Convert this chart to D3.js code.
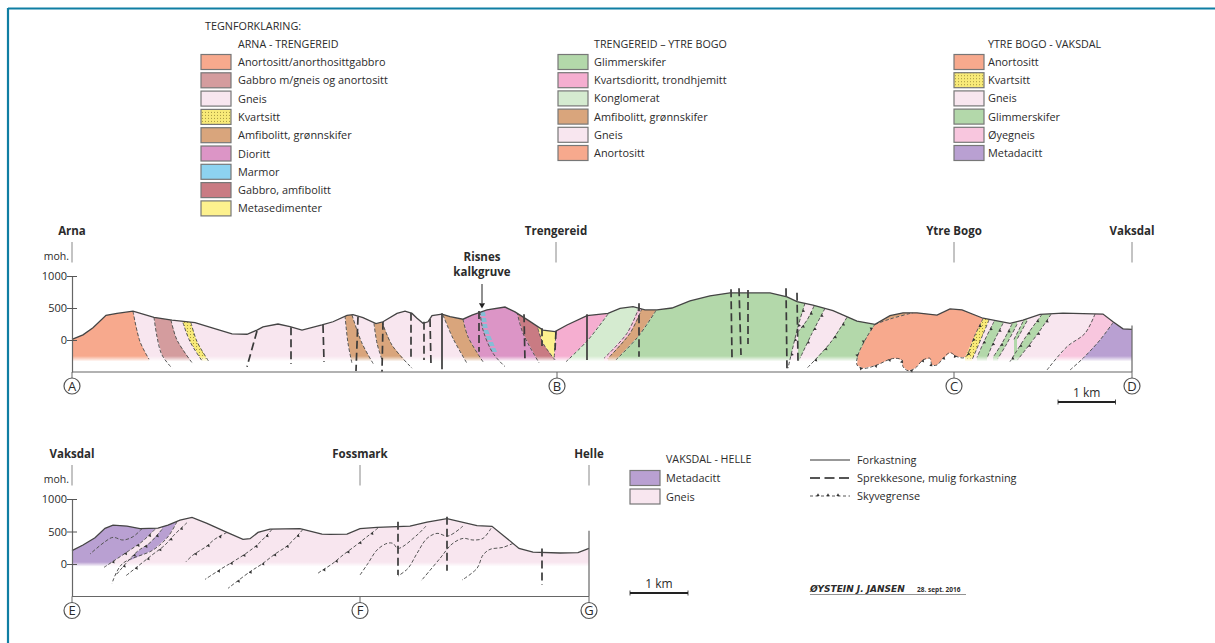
<!DOCTYPE html>
<html>
<head>
<meta charset="utf-8">
<script src="https://cdn.jsdelivr.net/npm/d3@7"></script>
<style>
html, body { margin: 0; padding: 0; background: #fff; }
svg { display: block; }
text { font-family: "Open Sans", "Noto Sans", sans-serif; fill: #2b2b2b; }
</style>
</head>
<body>
<div id="chart"></div>
<script>
// Position along the section is in drawing units (57 per km), height in moh.
var elevationTicks = [0, 500, 1000];

// Terrain profile A-D
var terrainTop = [[0,10],[11,80],[21,190],[34,385],[45,415],[61,450],[82,355],[100,310],[123,270],[141,185],[160,95],[175,90],[185,155],[191,205],[206,250],[218,210],[230,155],[250,235],[261,285],[275,385],[281,395],[291,350],[304,255],[311,285],[325,415],[333,450],[340,415],[345,340],[351,260],[356,285],[360,380],[370,405],[378,365],[391,325],[400,390],[415,470],[433,515],[443,440],[456,310],[471,155],[483,130],[495,235],[515,380],[536,415],[548,495],[561,520],[573,470],[585,470],[600,500],[618,610],[638,690],[658,735],[698,735],[715,675],[725,600],[741,545],[761,460],[785,295],[803,245],[818,380],[831,425],[845,425],[865,390],[878,485],[890,470],[911,340],[938,260],[951,310],[968,400],[991,420],[1031,405],[1041,285],[1051,175],[1060,165]];

// Terrain profile E-G
var terrainBottom = [[0,205],[11,292],[23,404],[33,548],[41,599],[55,584],[68,543],[86,553],[96,599],[108,676],[120,717],[135,625],[155,486],[171,379],[178,389],[186,486],[198,538],[228,543],[250,461],[258,456],[275,461],[288,543],[305,563],[338,584],[355,645],[375,697],[405,589],[420,579],[435,394],[447,240],[461,184],[488,169],[506,174],[517,240]];

// Contacts between rock units, A-D, left to right
var edgeA = [[0,0]];
var c1 = [[61,450],[68,-25],[77,-300]];
var c2 = [[82,355],[85,50],[90,-235],[100,-440]];
var c3 = [[99,310],[105,0],[121,-375]];
var c4 = [[111,270],[118,-25],[130,-325]];
var c5 = [[119,270],[125,-25],[137,-340]];
var c6 = [[273,380],[276,-50],[280,-365]];
var c7 = [[280,390],[290,-50],[302,-390]];
var c8 = [[302,260],[305,-50],[310,-310]];
var c9 = [[310,285],[320,-80],[340,-440]];
var c10 = [[371,390],[381,25],[395,-365]];
var c11 = [[391,325],[396,50],[411,-340]];
var c12 = [[445,440],[451,105],[467,-355]];
var c13 = [[466,180],[471,-50],[483,-310]];
var c14 = [[484,130],[483,-105],[482,-310]];
var c15 = [[536,405],[516,0],[494,-340]];
var c16 = [[567,510],[555,105],[532,-285]];
var c17 = [[570,495],[558,105],[536,-285]];
var c18 = [[584,460],[566,50],[544,-310]];
var c19 = [[733,575],[726,210],[716,-440]];
var c20 = [[742,530],[735,310],[726,130]];
var t2 = [[753,495],[740,105],[728,-285]];
var t3 = [[775,355],[758,-50],[735,-440]];
var greenEnd = [[803,245],[798,25],[788,-330]];
var lumpRight = [[911,333],[903,78],[893,-271]];
var kvartRight = [[917,313],[910,52],[900,-312]];
var band1L = [[922,287],[912,-26],[905,-271]];
var band1R = [[931,260],[921,-52],[915,-286]];
var band2L = [[940,250],[930,-52],[921,-271]];
var band2R = [[945,245],[935,-52],[926,-286]];
var band3L = [[951,287],[942,10]];
var band3R = [[955,297],[945,10]];
var band4L = [[970,401],[955,78],[938,-338]];
var band4R = [[979,401],[966,104],[946,-302]];
var gneissEnd = [[1023,406],[1013,104],[995,-104],[975,-469]];
var oyeEnd = [[1041,271],[1028,0],[1011,-286],[998,-469]];
var edgeD = [[1060,0]];

// Closed bodies A-D
var marmorBody = [[408,443],[413,443],[416,156],[425,-182],[421,-208],[411,156]];
var marmorLine = [[408,443],[411,156],[421,-208],[433,-416]];
var capBody = [[803,245],[818,328],[841,427],[841,800],[803,800]];
var capLine = [[803,245],[818,328],[841,427]];
var lumpBody = [[803,245],[818,328],[841,427],[841,800],[911,800],[911,333],[903,78],[893,-271],[885,-260],[878,-198],[871,-286],[865,-390],[860,-390],[858,-286],[851,-312],[843,-443],[836,-479],[831,-417],[830,-312],[823,-286],[816,-312],[805,-390],[791,-443],[785,-390],[786,-234],[795,52]];
var lumpThrust = [[911,333],[903,78],[893,-271],[885,-260],[878,-198],[871,-286],[865,-390],[860,-390],[858,-286],[851,-312],[843,-443],[836,-479],[831,-417],[830,-312],[823,-286],[816,-312],[805,-390],[791,-443],[785,-390],[786,-234],[795,52],[803,245]];

// Which pair of contacts bounds each unit, and its rock type
var unitsTop = [
  ["anortositt", edgeA, c1], ["gneis", c1, c2], ["gabbroGneis", c2, c3], ["gneis", c3, c4],
  ["kvartsitt", c4, c5], ["gneis", c5, c6], ["amfibolitt", c6, c7], ["gneis", c7, c8],
  ["amfibolitt", c8, c9], ["gneis", c9, c10], ["amfibolitt", c10, c11], ["dioritt", c11, c12],
  ["gabbro", c12, c13], ["metasedimenter", c13, c14], ["kvartsdioritt", c14, c15],
  ["konglomerat", c15, c16], ["oyegneis", c16, c17], ["amfibolitt", c17, c18],
  ["glimmerskifer", c18, greenEnd], ["gneis", t2, t3], ["gneis", c19, c20],
  ["kvartsitt", lumpRight, kvartRight], ["gneis", kvartRight, gneissEnd],
  ["glimmerskifer", band1L, band1R], ["glimmerskifer", band2L, band2R],
  ["glimmerskifer", band3L, band3R], ["glimmerskifer", band4L, band4R],
  ["oyegneis", gneissEnd, oyeEnd], ["metadacitt", oyeEnd, edgeD]
];
var contactLinesTop = [c1, c2, c3, c4, c5, c6, c7, c8, c9, c10, c11, c12, c13, c14, c15, c16, c17, c18, kvartRight, band3L, band3R, band2R, gneissEnd, oyeEnd, marmorLine, capLine];
var thrustLinesTop = [c19, c20, t2, t3, lumpThrust, band1L, band1R, band2L, band4L, band4R];

// Faults A-D, top and bottom end
var solidFaultsTop = [[[370,417],[370,-458]], [[515,402],[515,-312]]];
var dashedFaultsTop = [
  [[185,140],[175,-417]], [[219,198],[219,-375]], [[251,234],[252,-339]], [[286,364],[284,-484]],
  [[311,286],[310,-495]], [[339,427],[339,-323]], [[352,286],[352,-312]], [[358,328],[359,-390]],
  [[407,453],[407,-183]], [[452,402],[453,-339]], [[470,183],[470,-94]], [[484,140],[483,-156]],
  [[567,573],[567,-261]], [[659,792],[660,-270]], [[667,808],[669,-234]], [[676,781],[676,-63]],
  [[714,808],[715,-469]], [[725,739],[726,-339]]
];

// Section E-G
var purpleEnd = [[105,651],[96,420],[81,215],[50,-1],[40,-300]];
var lensA = [[83,533],[70,343],[58,215],[32,-52]];
var lensB = [[90,533],[78,328],[65,189],[44,-170]];
var lineC = [[115,635],[102,445],[93,292],[80,138],[54,-180]];
var lineD = [[155,486],[143,384],[134,266],[121,138],[114,35]];
var lineE = [[200,533],[195,445],[185,292],[174,163],[161,35],[150,-67],[133,-237]];
var lineF = [[231,533],[225,430],[215,276],[203,153],[190,0],[178,-119],[156,-375]];
var lineG = [[306,553],[295,420],[283,276],[271,138],[260,0],[248,-119],[245,-155]];
var curveL = [[70,543],[61,420],[51,369],[41,410],[33,343],[18,153]];
var curveH = [[354,584],[345,445],[326,240],[321,317],[315,317],[305,215],[296,10],[288,-170]];
var curveI = [[391,584],[376,430],[365,471],[355,394],[345,163],[336,-67],[326,-185]];
var curveJ = [[419,548],[411,394],[401,369],[391,394],[380,307],[368,86],[349,-262]];
var curveK = [[441,317],[431,256],[418,225],[411,138],[405,-67],[390,-247]];
var edgeE = [[0,0]];
var edgeG = [[517,0]];
var thrustLinesBottom = [lensA, lensB, lineC, lineD, lineE, lineF, lineG];
var plainLinesBottom = [purpleEnd, curveL, curveH, curveI, curveJ, curveK];
var dashedFaultsBottom = [[[326,651],[326,-170]], [[375,728],[375,-103]], [[470,240],[470,-324]]];

// Place names and section letters
var placesTop = [["Arna", 0], ["Trengereid", 484], ["Ytre Bogo", 882], ["Vaksdal", 1060]];
var lettersTop = [["A", 0], ["B", 485], ["C", 882], ["D", 1060]];
var placesBottom = [["Vaksdal", 0], ["Fossmark", 288], ["Helle", 517]];
var lettersBottom = [["E", 0], ["F", 288], ["G", 517]];

// Legends
var rockColors = {
  anortositt: "#f7a98d", gabbroGneis: "#d49c9e", gneis: "#f8e6ef", kvartsitt: "url(#dots)",
  amfibolitt: "#d9a57c", dioritt: "#dc95c6", marmor: "#8dd3f0", gabbro: "#c97b83",
  metasedimenter: "#fdf18e", glimmerskifer: "#b3d8aa", kvartsdioritt: "#f5aed0",
  konglomerat: "#d5ebd0", oyegneis: "#f8c6de", metadacitt: "#b9a0d2"
};
var legendArna = [["Anortositt/anorthosittgabbro","anortositt"],["Gabbro m/gneis og anortositt","gabbroGneis"],["Gneis","gneis"],["Kvartsitt","kvartsitt"],["Amfibolitt, grønnskifer","amfibolitt"],["Dioritt","dioritt"],["Marmor","marmor"],["Gabbro, amfibolitt","gabbro"],["Metasedimenter","metasedimenter"]];
var legendTrengereid = [["Glimmerskifer","glimmerskifer"],["Kvartsdioritt, trondhjemitt","kvartsdioritt"],["Konglomerat","konglomerat"],["Amfibolitt, grønnskifer","amfibolitt"],["Gneis","gneis"],["Anortositt","anortositt"]];
var legendYtreBogo = [["Anortositt","anortositt"],["Kvartsitt","kvartsitt"],["Gneis","gneis"],["Glimmerskifer","glimmerskifer"],["Øyegneis","oyegneis"],["Metadacitt","metadacitt"]];
var legendVaksdal = [["Metadacitt","metadacitt"],["Gneis","gneis"]];
var lineLegend = ["Forkastning", "Sprekkesone, mulig forkastning", "Skyvegrense"];

var width = 1215, height = 643;
var svg = d3.select("#chart").append("svg").attr("width", width).attr("height", height);
var defs = svg.append("defs");

var dots = defs.append("pattern").attr("id", "dots").attr("patternUnits", "userSpaceOnUse").attr("width", 3).attr("height", 3);
dots.append("rect").attr("width", 3).attr("height", 3).attr("fill", "#f8ea78");
dots.append("circle").attr("cx", 1.5).attr("cy", 1.5).attr("r", 0.5).attr("fill", "#8a7a30");

// broken-up marble lens
var marble = defs.append("pattern").attr("id", "marble").attr("patternUnits", "userSpaceOnUse").attr("width", 6).attr("height", 6);
marble.append("rect").attr("width", 6).attr("height", 6).attr("fill", rockColors.dioritt);
marble.append("rect").attr("width", 6).attr("height", 4).attr("fill", "#86bdd6");

// frame (only top and left)
svg.append("line").attr("x1", 8).attr("y1", 8.5).attr("x2", width).attr("y2", 8.5).attr("stroke", "#0f7ea3").attr("stroke-width", 2);
svg.append("line").attr("x1", 8).attr("y1", 8).attr("x2", 8).attr("y2", height).attr("stroke", "#0f7ea3").attr("stroke-width", 2.2);

var x1 = d3.scaleLinear().domain([0, 1060]).range([72, 1132]);
var y1 = d3.scaleLinear().domain([-500, 1000]).range([372, 276]);
var x2 = d3.scaleLinear().domain([0, 517]).range([72, 589]);
var y2 = d3.scaleLinear().domain([-500, 1000]).range([596.5, 499]);

function addPanel(id, x, y, terrain, fadeFrom, fadeTo) {
  var line = d3.line().x(d => x(d[0])).y(d => y(d[1]));
  var xMax = x.domain()[1];
  defs.append("clipPath").attr("id", "clip" + id).append("path")
    .attr("d", line(terrain.concat([[xMax, -700], [0, -700]])) + "Z");
  var grad = defs.append("linearGradient").attr("id", "fade" + id).attr("gradientUnits", "userSpaceOnUse")
    .attr("x1", 0).attr("x2", 0).attr("y1", y(fadeFrom)).attr("y2", y(fadeTo));
  grad.append("stop").attr("offset", 0).attr("stop-color", "#fff");
  grad.append("stop").attr("offset", 1).attr("stop-color", "#000");
  var mask = defs.append("mask").attr("id", "mask" + id).attr("maskUnits", "userSpaceOnUse")
    .attr("x", 0).attr("y", 0).attr("width", width).attr("height", height);
  mask.append("rect").attr("width", width).attr("height", height).attr("fill", "url(#fade" + id + ")");
  var clipped = svg.append("g").attr("clip-path", "url(#clip" + id + ")");
  return {
    x: x, y: y, line: line,
    fills: clipped.append("g").attr("mask", "url(#mask" + id + ")"),
    solids: clipped.append("g"),
    lines: clipped.append("g"),
    top: svg.append("g")
  };
}

// polygon between two contacts, extended up past the terrain and down past the fade
function unitPath(panel, a, b) {
  var left = a.slice(), right = b.slice().reverse();
  var pts = [[a[0][0], 3000]].concat(left, [[a[a.length - 1][0], -700], [b[b.length - 1][0], -700]], right, [[b[0][0], 3000]]);
  return panel.line(pts) + "Z";
}

function addDashed(panel, lines) {
  var gen = d3.line().x(d => panel.x(d[0])).y(d => panel.y(d[1])).curve(d3.curveCatmullRom);
  panel.lines.selectAll(null).data(lines).enter().append("path")
    .attr("d", gen)
    .attr("fill", "none").attr("stroke", "#555").attr("stroke-width", 1).attr("stroke-dasharray", "3.5,2");
}

function addThrusts(panel, lines) {
  var gen = d3.line().x(d => panel.x(d[0])).y(d => panel.y(d[1])).curve(d3.curveCatmullRom);
  lines.forEach(function(pts) {
    var path = panel.lines.append("path").attr("d", gen(pts))
      .attr("fill", "none").attr("stroke", "#555").attr("stroke-width", 1).attr("stroke-dasharray", "3.5,2");
    var len = path.node().getTotalLength();
    d3.range(8, len - 3, 15).forEach(function(s) {
      var p = path.node().getPointAtLength(s);
      var q = path.node().getPointAtLength(s + 1);
      var angle = Math.atan2(q.y - p.y, q.x - p.x) * 180 / Math.PI;
      panel.lines.append("path").attr("d", d3.symbol(d3.symbolTriangle, 4.5)())
        .attr("transform", "translate(" + p.x + "," + p.y + ") rotate(" + angle + ") translate(0,-0.8)")
        .attr("fill", "#333");
    });
  });
}

function addFaults(panel, faults, dash) {
  panel.top.selectAll(null).data(faults).enter().append("path")
    .attr("d", panel.line)
    .attr("fill", "none").attr("stroke", "#3a3a3a").attr("stroke-width", 1.7)
    .attr("stroke-dasharray", dash);
}

function addAxes(panel, terrain, bottomLine) {
  var g = panel.top, x = panel.x, y = panel.y;
  var xEnd = x.domain()[1];
  g.append("path").attr("d", panel.line(terrain)).attr("fill", "none").attr("stroke", "#444").attr("stroke-width", 1.3);
  var axis = d3.axisLeft(y).tickValues(elevationTicks).tickSize(0).tickPadding(5).tickFormat(d3.format("d"));
  var ga = g.append("g").attr("transform", "translate(72,0)").call(axis);
  ga.select(".domain").attr("stroke", "#666").attr("stroke-width", 1.2);
  ga.selectAll("text").attr("font-size", 11).attr("fill", "#2b2b2b").style("font-family", '"Open Sans", sans-serif');
  ga.selectAll(".tick line").attr("x1", -5).attr("x2", 5).attr("stroke", "#555").attr("stroke-width", 1);
  g.append("line").attr("x1", x(0)).attr("x2", x(xEnd)).attr("y1", y(-500)).attr("y2", y(-500)).attr("stroke", "#666").attr("stroke-width", 1.2);
  g.append("line").attr("x1", x(xEnd)).attr("x2", x(xEnd)).attr("y1", y(-500)).attr("y2", y(bottomLine)).attr("stroke", "#666").attr("stroke-width", 1.2);
}

function addPlaces(panel, places, letters) {
  var g = panel.top, x = panel.x, y0 = panel.y(1000), base = panel.y(-500);
  places.forEach(function(d) {
    g.append("text").attr("x", x(d[1])).attr("y", y0 - 41).attr("text-anchor", "middle")
      .attr("font-size", 11.5).attr("font-weight", 700).text(d[0]);
    g.append("line").attr("x1", x(d[1])).attr("x2", x(d[1])).attr("y1", y0 - 34).attr("y2", y0 - 13.5)
      .attr("stroke", "#888").attr("stroke-width", 1);
  });
  g.append("text").attr("x", 69).attr("y", y0 - 16).attr("text-anchor", "end").attr("font-size", 10.5).text("moh.");
  letters.forEach(function(d) {
    g.append("line").attr("x1", x(d[1])).attr("x2", x(d[1])).attr("y1", base).attr("y2", base + 7).attr("stroke", "#666");
    g.append("circle").attr("cx", x(d[1])).attr("cy", base + 14).attr("r", 8).attr("fill", "#fff").attr("stroke", "#555").attr("stroke-width", 1.2);
    g.append("text").attr("x", x(d[1])).attr("y", base + 18.8).attr("text-anchor", "middle").attr("font-size", 13).text(d[0]);
  });
}

function addKmBar(x0, x3, yBar) {
  svg.append("line").attr("x1", x0).attr("x2", x3).attr("y1", yBar).attr("y2", yBar).attr("stroke", "#222").attr("stroke-width", 2);
  svg.selectAll(null).data([x0, x3]).enter().append("line").attr("x1", d => d).attr("x2", d => d)
    .attr("y1", yBar - 2.5).attr("y2", yBar + 2.5).attr("stroke", "#222").attr("stroke-width", 0.8);
  svg.append("text").attr("x", (x0 + x3) / 2).attr("y", yBar - 5).attr("text-anchor", "middle").attr("font-size", 12).text("1 km");
}

// Section A-D
var top1 = addPanel("A", x1, y1, terrainTop, -250, -335);
top1.fills.selectAll(null).data(unitsTop).enter().append("path")
  .attr("d", d => unitPath(top1, d[1], d[2]))
  .attr("fill", d => rockColors[d[0]]);
top1.fills.append("path").attr("d", top1.line(marmorBody) + "Z").attr("fill", "url(#marble)");
// anorthosite body has its own base line, so no fade
top1.solids.append("path").attr("d", top1.line(capBody) + "Z").attr("fill", rockColors.amfibolitt);
top1.solids.append("path").attr("d", top1.line(lumpBody) + "Z").attr("fill", rockColors.anortositt);
addDashed(top1, contactLinesTop);
addThrusts(top1, thrustLinesTop);
addFaults(top1, solidFaultsTop, null);
addFaults(top1, dashedFaultsTop, "8,4");
addAxes(top1, terrainTop, 225);
addPlaces(top1, placesTop, lettersTop);
addKmBar(1058, 1115.5, 402);

// Risnes label and arrow
svg.append("text").attr("x", 482).attr("y", 261).attr("text-anchor", "middle").attr("font-size", 11.5).attr("font-weight", 700).text("Risnes");
svg.append("text").attr("x", 482).attr("y", 276).attr("text-anchor", "middle").attr("font-size", 11.5).attr("font-weight", 700).text("kalkgruve");
svg.append("line").attr("x1", 482).attr("x2", 482).attr("y1", 284).attr("y2", 303).attr("stroke", "#222").attr("stroke-width", 1);
svg.append("path").attr("d", d3.symbol(d3.symbolTriangle, 16)()).attr("transform", "translate(482,305) rotate(180)").attr("fill", "#222");

// Section E-G
var top2 = addPanel("E", x2, y2, terrainBottom, 30, -40);
top2.fills.append("path").attr("d", unitPath(top2, edgeE, edgeG)).attr("fill", rockColors.gneis);
top2.fills.append("path").attr("d", unitPath(top2, edgeE, purpleEnd)).attr("fill", rockColors.metadacitt);
top2.fills.append("path").attr("d", unitPath(top2, lensA, lensB)).attr("fill", rockColors.gneis);
addDashed(top2, plainLinesBottom);
addThrusts(top2, thrustLinesBottom);
addFaults(top2, dashedFaultsBottom, "8,4");
addAxes(top2, terrainBottom, 510);
addPlaces(top2, placesBottom, lettersBottom);
addKmBar(630, 688, 593);

// Legends
function addLegend(items, xBox, xText, yStart, step, boxWidth) {
  var rows = svg.append("g").selectAll("g").data(items).enter().append("g")
    .attr("transform", (d, i) => "translate(0," + (yStart + i * step) + ")");
  rows.append("rect").attr("x", xBox).attr("y", -7.5).attr("width", boxWidth).attr("height", 15)
    .attr("fill", d => rockColors[d[1]]).attr("stroke", "#777").attr("stroke-width", 1.2);
  rows.append("text").attr("x", xText).attr("y", 4).attr("font-size", 10.9).text(d => d[0]);
}
function legendHead(label, xText, yText, size) {
  svg.append("text").attr("x", xText).attr("y", yText).attr("font-size", size).text(label);
}

legendHead("TEGNFORKLARING:", 205, 30, 10.8);
legendHead("ARNA - TRENGEREID", 238, 48, 10.7);
addLegend(legendArna, 201, 238, 62, 18.3, 30);
legendHead("TRENGEREID – YTRE BOGO", 594, 48, 10.7);
addLegend(legendTrengereid, 558, 594, 62, 18.2, 30);
legendHead("YTRE BOGO - VAKSDAL", 988, 48, 10.7);
addLegend(legendYtreBogo, 954, 988, 62, 18.2, 30);
legendHead("VAKSDAL - HELLE", 666, 463, 10.7);
addLegend(legendVaksdal, 630, 666, 478, 18.5, 30);

// line types
var lineRows = [460, 478, 496];
svg.selectAll(null).data(lineLegend).enter().append("text")
  .attr("x", 857).attr("y", (d, i) => lineRows[i] + 4).attr("font-size", 10.9).text(d => d);
svg.append("line").attr("x1", 810).attr("x2", 850).attr("y1", lineRows[0]).attr("y2", lineRows[0]).attr("stroke", "#333").attr("stroke-width", 1.2);
svg.append("line").attr("x1", 810).attr("x2", 850).attr("y1", lineRows[1]).attr("y2", lineRows[1]).attr("stroke", "#555").attr("stroke-width", 2).attr("stroke-dasharray", "10,4.5");
svg.append("line").attr("x1", 810).attr("x2", 850).attr("y1", lineRows[2]).attr("y2", lineRows[2]).attr("stroke", "#444").attr("stroke-width", 0.9).attr("stroke-dasharray", "3,2.5");
svg.selectAll(null).data([818, 828, 838]).enter().append("path").attr("d", d3.symbol(d3.symbolTriangle, 4.5)())
  .attr("transform", d => "translate(" + d + "," + (lineRows[2] - 1) + ")").attr("fill", "#333");

// signature
svg.append("text").attr("x", 810).attr("y", 592).attr("font-size", 9).attr("font-weight", 700).style("font-family", '"DejaVu Sans", sans-serif').attr("font-style", "italic").text("ØYSTEIN J. JANSEN");
svg.append("text").attr("x", 917).attr("y", 592).attr("font-size", 6.5).attr("font-weight", 700).text("28. sept. 2016");
svg.append("line").attr("x1", 810).attr("x2", 966).attr("y1", 594.5).attr("y2", 594.5).attr("stroke", "#777").attr("stroke-width", 0.8);
</script>
</body>
</html>
